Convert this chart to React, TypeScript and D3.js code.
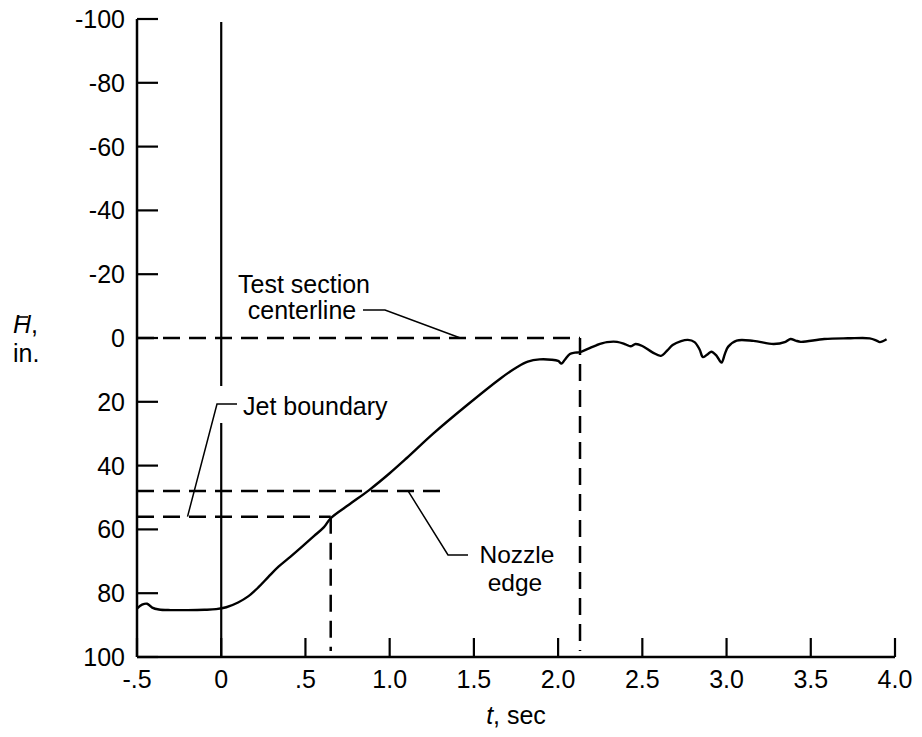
import React from 'react';
import * as d3 from 'd3';

// Time axis (sec) and height axis (in.) ticks
const timeTicks = [-0.5, 0, 0.5, 1.0, 1.5, 2.0, 2.5, 3.0, 3.5, 4.0];
const timeTickLabels = ['-.5', '0', '.5', '1.0', '1.5', '2.0', '2.5', '3.0', '3.5', '4.0'];
const heightTicks = [-100, -80, -60, -40, -20, 0, 20, 40, 60, 80, 100];

// Measured trajectory H-bar(t)
const curveT = [
  -0.5, -0.47, -0.44, -0.41, -0.37, -0.3, -0.2, -0.1, -0.03, 0.03, 0.1, 0.16, 0.22, 0.28, 0.34,
  0.41, 0.48, 0.55, 0.61, 0.65, 0.76, 0.88, 1.0, 1.1, 1.26, 1.46, 1.66, 1.76, 1.82, 1.89, 1.96, 2.0,
  2.02, 2.04, 2.07, 2.1, 2.13, 2.18, 2.23, 2.29, 2.35, 2.4, 2.43, 2.46, 2.5, 2.56, 2.61, 2.65,
  2.68, 2.73, 2.77, 2.81, 2.84, 2.86, 2.89, 2.91, 2.94, 2.97, 2.99, 3.01, 3.06, 3.16, 3.28, 3.35,
  3.38, 3.41, 3.44, 3.58, 3.72, 3.85, 3.89, 3.91, 3.95,
];
const curveH = [
  84.8, 83.6, 83.3, 84.5, 85.1, 85.3, 85.3, 85.2, 85.0, 84.4, 82.9, 81.0, 78.2, 74.9, 71.7,
  68.6, 65.4, 62.1, 59.3, 56.5, 52.2, 47.6, 42.4, 37.7, 29.9, 21.0, 12.6, 9.0, 7.4, 6.7, 6.8, 7.2,
  8.0, 6.8, 5.0, 4.6, 4.4, 3.3, 2.2, 1.3, 1.2, 2.0, 2.6, 1.9, 2.5, 4.5, 5.6, 3.8,
  2.2, 1.0, 0.6, 1.3, 3.6, 6.0, 5.0, 4.3, 5.5, 7.7, 5.0, 2.7, 0.8, 0.9, 1.9, 1.2,
  0.3, 0.8, 1.2, 0.3, 0.1, 0.1, 0.8, 1.3, 0.4,
];

// Reference levels
const centerlineH = 0;
const centerlineEndT = 2.13;
const nozzleEdgeH = 48;
const nozzleEdgeEndT = 1.34;
const jetBoundaryH = 56;
const jetBoundaryT = 0.65;

const FONT = '"Liberation Sans", Arial, Helvetica, sans-serif';

export default function App() {
  const width = 922;
  const height = 737;
  const x = d3.scaleLinear().domain([-0.5, 4.0]).range([137, 895]);
  const y = d3.scaleLinear().domain([-100, 100]).range([19, 657]);

  const points: [number, number][] = curveT.map((t, i) => [t, curveH[i]]);
  const line = d3
    .line<[number, number]>()
    .x((d) => x(d[0]))
    .y((d) => y(d[1]))
    .curve(d3.curveCatmullRom.alpha(0.5));

  const x0 = x(-0.5);
  const yBottom = y(100);
  const yTop = y(-100);
  const dash = '17 9';

  // annotation anchor points on the reference lines
  const tcEnd = [x(1.42), y(centerlineH)];
  const jbEnd = [x(-0.2), y(jetBoundaryH)];
  const neEnd = [x(1.11), y(nozzleEdgeH)];

  return (
    <svg
      width={width}
      height={height}
      style={{ position: 'absolute', left: 0, top: 0, background: '#fff' }}
      fontFamily={FONT}
    >
      <rect x={0} y={0} width={width} height={height} fill="#fff" />

      {/* axes */}
      <line x1={x0} y1={yTop} x2={x0} y2={yBottom} stroke="#000" strokeWidth={2.5} />
      <line x1={x0} y1={yBottom} x2={x(4.0)} y2={yBottom} stroke="#000" strokeWidth={2.5} />

      {heightTicks.map((h) => (
        <g key={`yt${h}`}>
          <line x1={x0} x2={x0 + 21} y1={y(h)} y2={y(h)} stroke="#000" strokeWidth={2.2} />
          <text x={125} y={y(h)} dy="0.36em" textAnchor="end" fontSize={25}>
            {h}
          </text>
        </g>
      ))}

      {timeTicks.map((t, i) => (
        <g key={`xt${t}`}>
          <line x1={x(t)} x2={x(t)} y1={yBottom} y2={yBottom - 19} stroke="#000" strokeWidth={2.2} />
          <text x={x(t)} y={688} textAnchor="middle" fontSize={25}>
            {timeTickLabels[i]}
          </text>
        </g>
      ))}

      {/* t = 0 reference line */}
      <line x1={x(0)} x2={x(0)} y1={yTop + 3} y2={386} stroke="#000" strokeWidth={2.2} />
      <line x1={x(0)} x2={x(0)} y1={423} y2={yBottom} stroke="#000" strokeWidth={2.2} />

      {/* test section centerline */}
      <line
        x1={x0}
        x2={x(centerlineEndT)}
        y1={y(centerlineH)}
        y2={y(centerlineH)}
        stroke="#000"
        strokeWidth={2.5}
        strokeDasharray={dash}
      />
      <line
        x1={x(centerlineEndT)}
        x2={x(centerlineEndT)}
        y1={y(centerlineH)}
        y2={yBottom - 6}
        stroke="#000"
        strokeWidth={2.5}
        strokeDasharray={dash}
      />

      {/* nozzle edge */}
      <line
        x1={x0}
        x2={x(nozzleEdgeEndT)}
        y1={y(nozzleEdgeH)}
        y2={y(nozzleEdgeH)}
        stroke="#000"
        strokeWidth={2.5}
        strokeDasharray={dash}
      />

      {/* jet boundary */}
      <line
        x1={x0}
        x2={x(jetBoundaryT)}
        y1={y(jetBoundaryH)}
        y2={y(jetBoundaryH)}
        stroke="#000"
        strokeWidth={2.5}
        strokeDasharray={dash}
      />
      <line
        x1={x(jetBoundaryT)}
        x2={x(jetBoundaryT)}
        y1={y(jetBoundaryH)}
        y2={yBottom - 6}
        stroke="#000"
        strokeWidth={2.5}
        strokeDasharray={dash}
      />

      {/* trajectory */}
      <path d={line(points) || ''} fill="none" stroke="#000" strokeWidth={2.4} strokeLinejoin="round" />

      {/* annotations */}
      <text x={304} y={293} textAnchor="middle" fontSize={25}>Test section</text>
      <text x={302} y={319} textAnchor="middle" fontSize={25}>centerline</text>
      <polyline
        points={`363,310 385,310 ${tcEnd[0]},${tcEnd[1]}`}
        fill="none"
        stroke="#000"
        strokeWidth={1.5}
      />

      <text x={243} y={415} fontSize={25}>Jet boundary</text>
      <polyline
        points={`237,404 217,404 ${jbEnd[0]},${jbEnd[1]}`}
        fill="none"
        stroke="#000"
        strokeWidth={1.5}
      />

      <text x={517} y={563} textAnchor="middle" fontSize={24.5}>Nozzle</text>
      <text x={515} y={591} textAnchor="middle" fontSize={24.5}>edge</text>
      <polyline
        points={`468,555 448,555 ${neEnd[0]},${neEnd[1]}`}
        fill="none"
        stroke="#000"
        strokeWidth={1.5}
      />

      {/* axis titles */}
      <text x={13} y={333} fontSize={25}>
        <tspan fontStyle="italic">H</tspan>,
      </text>
      <line x1={18} x2={28} y1={317} y2={317} stroke="#000" strokeWidth={1.6} />
      <text x={13} y={362} fontSize={25}>in.</text>

      <text x={516} y={724} textAnchor="middle" fontSize={25}>
        <tspan fontStyle="italic">t</tspan>, sec
      </text>
    </svg>
  );
}
